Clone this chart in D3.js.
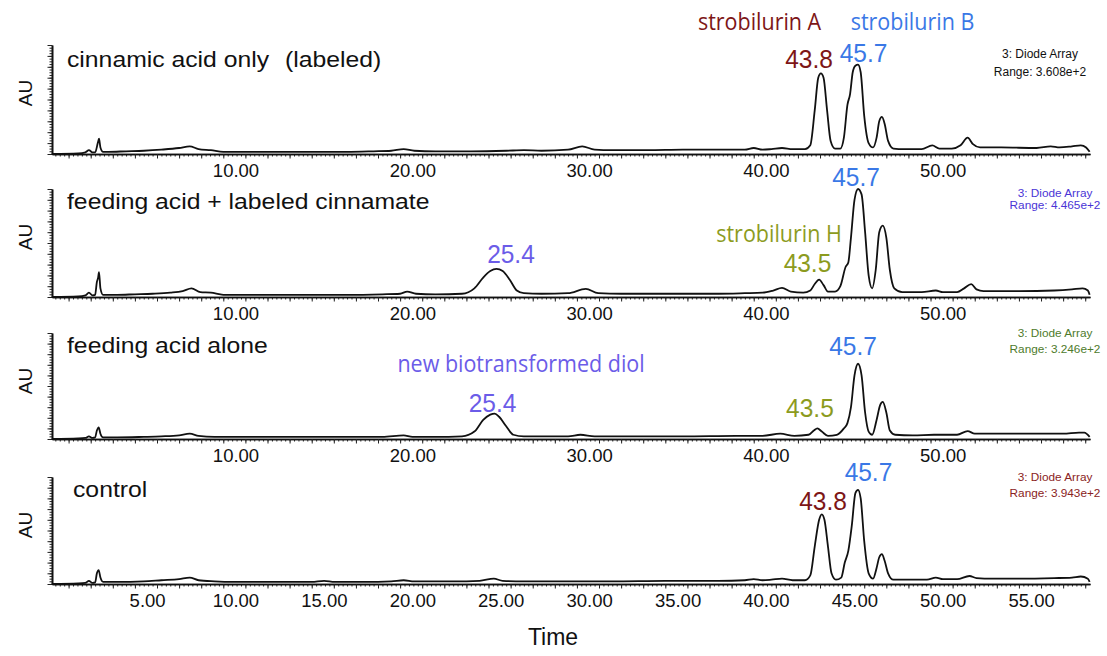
<!DOCTYPE html>
<html><head><meta charset="utf-8">
<script src="https://cdn.jsdelivr.net/npm/d3@7"></script>
<style>body{margin:0;background:#fff} svg{display:block}</style>
</head><body><svg id="chart" width="1107" height="656"></svg>
<script>
// ---------------- DATA ----------------
const panelTitles = ["cinnamic acid only", "feeding acid + labeled cinnamate", "feeding acid alone", "control"];
const titleSuffix = ["(labeled)", "", "", ""];
const detectorLabel = "3: Diode Array";
const rangeLabels = ["Range: 3.608e+2", "Range: 4.465e+2", "Range: 3.246e+2", "Range: 3.943e+2"];
const upperTickLabels = [10, 20, 30, 40, 50];
const lowerTickLabels = [5, 10, 15, 20, 25, 30, 35, 40, 45, 50, 55];
const xTitle = "Time";
const yTitle = "AU";

// traces: [retention time (min), signal (% of panel full scale)]
const trace1 = [[0.3,0],[1.8,0.5],[2.2,1.5],[2.4,3.5],[2.6,1.5],[2.75,1.5],[2.9,10],[2.97,14],[3.05,6],[3.2,2],[3.5,2],[4.5,2.5],[5.5,3],[6.5,4],[7.5,5.5],[8.1,7],[8.6,4.5],[9.3,3.5],[10,2],[12,2],[15,2],[17,2],[18.5,2.5],[19.5,3],[20.2,4.5],[20.8,3],[22,2.5],[24,2.5],[26,3],[27,3.5],[28,3],[29.5,4],[30.3,7],[31,4],[32,3.5],[34,3.5],[36,4],[38,4],[39.5,4],[40,5.5],[40.5,4],[41,4.5],[41.6,5.5],[42.2,4.5],[42.9,4.5],[43.2,8],[43.45,40],[43.65,70],[43.8,74],[43.95,70],[44.15,40],[44.35,12],[44.6,5],[44.9,5],[45.1,15],[45.3,45],[45.45,55],[45.6,75],[45.75,81],[45.9,82],[46.05,75],[46.25,35],[46.5,10],[46.75,6],[46.95,15],[47.1,30],[47.25,34],[47.4,28],[47.6,12],[47.9,5],[48.5,4.5],[49.5,4.5],[50.1,8],[50.5,5],[51.2,5],[51.7,8],[52.1,15],[52.4,9],[52.8,6],[54,6],[56,5.5],[56.8,7],[57.3,6],[58,7],[58.5,8],[58.8,6],[59,2]];
const trace2 = [[0.3,0],[1.8,0.5],[2.2,1.5],[2.4,4],[2.6,1.5],[2.75,2],[2.85,14],[2.92,18],[2.97,23],[3.05,8],[3.2,2],[4,2],[5,2.5],[6,3],[7,4],[7.7,5.5],[8.2,8],[8.7,4.5],[9.3,4],[10,2],[12,2],[15,2],[17,2],[19,2.5],[20,3],[20.4,5],[20.9,3],[22,2.5],[23.5,3],[24.2,8],[24.7,18],[25.1,24],[25.45,26],[25.8,24],[26.2,16],[26.6,6],[27,3.5],[28,3],[29.5,3.5],[30.5,7.5],[31.2,3.5],[32.5,3],[34,3],[36,3],[38,3],[39.5,3.5],[40.5,4],[41.1,6],[41.6,8.5],[42.1,5],[42.8,4],[43.2,6],[43.45,12],[43.7,16],[43.95,11],[44.2,5],[44.6,5],[44.9,10],[45.2,28],[45.35,32],[45.5,55],[45.7,90],[45.9,100],[46.1,95],[46.3,60],[46.5,20],[46.7,8],[46.9,25],[47.1,60],[47.3,66],[47.5,55],[47.7,25],[47.95,8],[48.4,4.5],[49.5,4.5],[50.3,6],[50.7,4.5],[51.5,4.5],[51.9,8],[52.3,12],[52.6,7],[53,5.5],[55,5.5],[57,6],[58,7],[58.6,8],[58.9,6],[59,2]];
const trace3 = [[0.3,0],[1.8,0.5],[2.2,1],[2.4,2.5],[2.6,1],[2.75,1.5],[2.85,8],[2.95,11],[3.05,5],[3.2,1.5],[4,1.5],[5.5,2],[6.5,2.5],[7.5,3.5],[8.1,5],[8.6,3],[9.5,2],[12,2],[15,2],[17,2],[19,2],[20.2,3.5],[20.7,2],[22,2],[23.5,2.5],[24.2,7],[24.7,18],[25.1,23],[25.35,24],[25.6,21],[26,12],[26.4,4],[27,2.5],[29.5,2.5],[30.2,4],[31,2.5],[33,2.5],[36,2.5],[39,3],[40.5,3],[41.5,5],[42.3,3],[43.1,4],[43.4,8],[43.6,10],[43.85,7],[44.2,3],[44.7,4],[45.1,10],[45.3,15],[45.5,30],[45.7,60],[45.9,71],[46.1,60],[46.3,25],[46.5,7],[46.7,4],[46.95,18],[47.15,32],[47.3,35],[47.5,25],[47.7,8],[48,4],[49,3.5],[50.2,4],[51.5,4],[52.1,7.5],[52.5,5],[53.5,5],[56,5],[57.5,5],[58.4,6],[58.7,6],[59,2]];
const trace4 = [[0.3,0],[1.8,0.5],[2.2,1],[2.4,3],[2.6,1],[2.75,1.5],[2.85,10],[2.95,13],[3.05,6],[3.2,2],[4,2],[5.5,2.5],[6.5,3.5],[7.5,4.5],[8.1,6],[8.6,3.5],[9.5,2.5],[10.5,2],[12,2],[15,2],[15.7,3],[16.3,2],[18,2],[19.5,2.5],[20.2,3.5],[20.8,2.5],[23,2.5],[24.5,3],[25.3,5],[25.8,3],[27,2.5],[30,2.5],[32,2.5],[35,3],[38,3],[39.5,3.5],[40,4.5],[40.5,3.5],[41,4],[41.6,5],[42.2,3.5],[42.9,3.5],[43.2,8],[43.45,35],[43.7,60],[43.85,65],[44.0,60],[44.2,35],[44.4,10],[44.65,4],[44.95,6],[45.15,20],[45.35,31],[45.55,55],[45.75,85],[45.9,88],[46.05,80],[46.25,40],[46.5,10],[46.75,5],[46.95,15],[47.1,25],[47.25,28],[47.4,22],[47.6,10],[47.9,4],[48.5,4],[49.8,4],[50.3,6],[50.7,4.5],[51.5,4.5],[52.2,7.5],[52.6,5.5],[53.5,5],[55,5],[57,5.5],[58,6],[58.5,7],[58.9,5],[59,2]];
const traces = [trace1, trace2, trace3, trace4];

// peak annotations: panel index, text, time, level (% of full scale), kind
const annotations = [
  {panel:0, text:"strobilurin A", t:40.33, v:113.5, kind:"A", font:"name"},
  {panel:0, text:"strobilurin B", t:48.98, v:113.5, kind:"B", font:"name"},
  {panel:0, text:"43.8", t:43.13, v:78.9, kind:"A", font:"num"},
  {panel:0, text:"45.7", t:46.21, v:84.0, kind:"B", font:"num"},
  {panel:1, text:"45.7", t:45.79, v:102.8, kind:"B", font:"num"},
  {panel:1, text:"strobilurin H", t:41.43, v:50.9, kind:"H", font:"name"},
  {panel:1, text:"43.5", t:43.04, v:23.1, kind:"H", font:"num"},
  {panel:1, text:"25.4", t:26.27, v:31.5, kind:"D", font:"num"},
  {panel:2, text:"new biotransformed diol", t:26.84, v:63.2, kind:"D", font:"name"},
  {panel:2, text:"25.4", t:25.23, v:25.5, kind:"D", font:"num"},
  {panel:2, text:"43.5", t:43.18, v:20.8, kind:"H", font:"num"},
  {panel:2, text:"45.7", t:45.62, v:79.2, kind:"B", font:"num"},
  {panel:3, text:"43.8", t:43.92, v:69.2, kind:"A", font:"num"},
  {panel:3, text:"45.7", t:46.49, v:96.3, kind:"B", font:"num"}
];

// ---------------- STYLE / LAYOUT ----------------
const kindColor = {A:"#7d1616", B:"#3a78e6", H:"#8c9b1e", D:"#6b5ce8"};
const rangeColors = ["#111111", "#4a34d6", "#4e7b2c", "#8a2222"];
const panelTop = [45, 189, 333, 477];
const panelBase = [154, 297, 439, 584];
const xLeft = 52, xRight = 1090;
const labelShift = 12.7;

const svg = d3.select("#chart");
const x = d3.scaleLinear().domain([0.311, 59.02]).range([xLeft, xRight]);
const fmt = d3.format(".2f");

function txt(g, px, py, s, o) {
  return g.append("text")
    .attr("transform", `translate(${px},${py}) scale(${o.sx||1},${o.sy||1})`)
    .attr("text-anchor", o.anchor || "start")
    .attr("font-family", o.family || "'Liberation Sans', Arial, sans-serif")
    .attr("font-size", o.size)
    .attr("fill", o.color || "#111")
    .text(s);
}

const minorT = d3.range(0.5, 59.0, 0.25);
const mediumT = minorT.filter(t => Math.abs(t/1.25 - Math.round(t/1.25)) < 1e-6);

traces.forEach((data, i) => {
  const g = svg.append("g");
  const y = d3.scaleLinear().domain([0, 100]).range([panelBase[i], panelTop[i]]);

  // x axis (minor + medium ticks)
  const gx = g.append("g").attr("transform", `translate(0,${panelBase[i]})`);
  gx.call(d3.axisBottom(x).tickValues(minorT).tickSize(2.5).tickFormat("").tickSizeOuter(0));
  gx.append("g").call(d3.axisBottom(x).tickValues(mediumT).tickSize(4.5).tickFormat("").tickSizeOuter(0));
  gx.selectAll("path.domain").attr("stroke", "#111").attr("stroke-width", 1.6);
  gx.selectAll("line").attr("stroke", "#222").attr("stroke-width", 1);

  // x tick labels
  const labels = i === 3 ? lowerTickLabels : upperTickLabels;
  labels.forEach(v => txt(g, x(v) + labelShift, panelBase[i] + 23, fmt(v), {anchor:"middle", size:18.5}));

  // y axis
  const gy = g.append("g").attr("transform", `translate(${xLeft},0)`);
  gy.call(d3.axisLeft(y).tickValues(d3.range(0, 100.1, 2.5)).tickSize(2.5).tickFormat("").tickSizeOuter(0));
  gy.append("g").call(d3.axisLeft(y).tickValues(d3.range(0, 100.1, 10)).tickSize(4.5).tickFormat("").tickSizeOuter(0));
  gy.selectAll("path.domain").attr("stroke", "#111").attr("stroke-width", 1.6);
  gy.selectAll("line").attr("stroke", "#222").attr("stroke-width", 1);

  // trace
  const line = d3.line().x(d => x(d[0])).y(d => y(d[1])).curve(d3.curveMonotoneX);
  g.append("path").datum(data).attr("d", line)
    .attr("fill", "none")
    .attr("stroke", "#111").attr("stroke-width", 1.8).attr("stroke-linejoin", "round");

  // title
  txt(g, i === 3 ? 73 : 67, panelTop[i] + (i === 0 ? 22 : 20), panelTitles[i], {size:22.5, sx:1.1});
  if (titleSuffix[i]) txt(g, 285, panelTop[i] + 22, titleSuffix[i], {size:22.5, sx:1.1});

  // AU label
  g.append("text").attr("transform", `translate(32,${panelTop[i] + 48}) rotate(-90)`)
    .attr("text-anchor", "middle").attr("font-family", "'Liberation Sans', Arial, sans-serif")
    .attr("font-size", 19).attr("fill", "#111").text(yTitle);

  // detector / range
  const cx = i === 0 ? 1040 : 1055;
  const l1 = i === 0 ? 58 : (i === 1 ? 197 : panelTop[i] + 4);
  const l2 = i === 0 ? 76 : (i === 1 ? 209 : panelTop[i] + 20);
  const rs = i === 0 ? 12 : 11.8;
  txt(g, cx, l1, detectorLabel, {anchor:"middle", size:rs, color:rangeColors[i]});
  txt(g, cx, l2, rangeLabels[i], {anchor:"middle", size:rs, color:rangeColors[i]});
});

// peak annotations
annotations.forEach(a => {
  const y = d3.scaleLinear().domain([0, 100]).range([panelBase[a.panel], panelTop[a.panel]]);
  if (a.font === "num") {
    txt(svg, x(a.t), y(a.v), a.text, {anchor:"middle", size:24.5, sy:1.06, color:kindColor[a.kind]});
  } else {
    txt(svg, x(a.t), y(a.v), a.text, {anchor:"middle", size:21.5, sy:1.08, color:kindColor[a.kind],
      family:"'Open Sans', 'Noto Sans', sans-serif"});
  }
});

// x title
txt(svg, 553, 645, xTitle, {anchor:"middle", size:23});
</script>
</body></html>
